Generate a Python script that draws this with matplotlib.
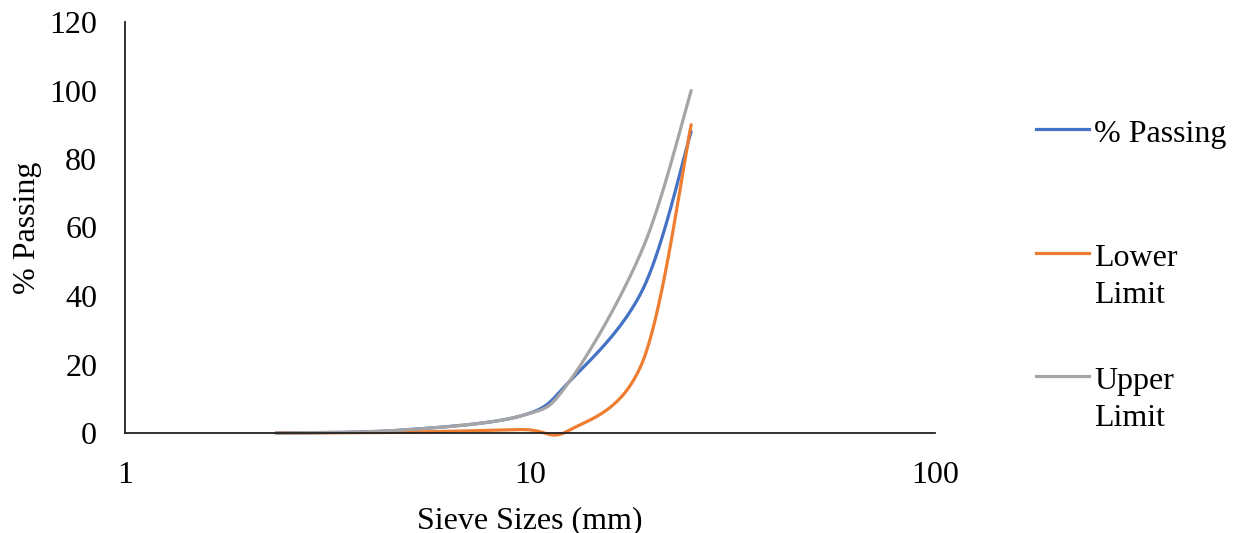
import numpy as np
import matplotlib
matplotlib.use('Agg')
import matplotlib.pyplot as plt
from matplotlib.lines import Line2D

plt.rcParams['font.family'] = ['Liberation Serif', 'DejaVu Serif']

sieve_sizes = [2.36, 4.75, 9.5, 12.5, 19, 25]
passing = [0, 0.8, 5, 15, 42, 88]
lower_limit = [0, 0.2, 1, 0.8, 21, 90]
upper_limit = [0, 0.8, 5, 15, 54, 100]

series_names = ['% Passing', 'Lower Limit', 'Upper Limit']
series_colors = ['#4472C4', '#ED7D31', '#A5A5A5']

W, H = 1237, 533
FS = 23
fig = plt.figure(figsize=(W / 100, H / 100), dpi=100)
ax = fig.add_axes([125 / W, 100 / H, 810 / W, 411 / H])


def smooth(x, y, steps=40):
    # spreadsheet-style smoothed line: cubic Bezier through each point,
    # tangents taken from the neighbours, worked out in screen units
    u = np.log10(np.asarray(x, float)) * 405.0
    v = np.asarray(y, float) * 3.425
    p = np.column_stack([u, v])
    n = len(p)
    out = [p[0]]
    t = np.linspace(0, 1, steps)[1:, None]
    for i in range(n - 1):
        p0 = p[i - 1] if i > 0 else p[i]
        p3 = p[i + 2] if i + 2 < n else p[i + 1]
        c1 = p[i] + (p[i + 1] - p0) / 6.0
        c2 = p[i + 1] - (p3 - p[i]) / 6.0
        seg = ((1 - t) ** 3) * p[i] + 3 * ((1 - t) ** 2) * t * c1 \
            + 3 * (1 - t) * t ** 2 * c2 + t ** 3 * p[i + 1]
        out.extend(seg)
    out = np.array(out)
    return 10 ** (out[:, 0] / 405.0), out[:, 1] / 3.425


for vals, name, col in zip([passing, lower_limit, upper_limit],
                           series_names, series_colors):
    sx, sy = smooth(sieve_sizes, vals)
    ax.plot(sx, sy, color=col, lw=2.3, solid_capstyle='round', label=name,
            clip_on=False)

ax.set_xscale('log')
ax.set_xlim(1, 100)
ax.set_ylim(0, 120)
ax.set_xticks([1, 10, 100])
ax.set_xticklabels(['1', '10', '100'])
ax.xaxis.set_minor_locator(matplotlib.ticker.NullLocator())
ax.set_yticks(range(0, 121, 20))
ax.tick_params(length=0, labelsize=FS, colors='black')
ax.tick_params(axis='x', pad=20)
ax.tick_params(axis='y', pad=20)

for s in ['top', 'right']:
    ax.spines[s].set_visible(False)
for s in ['left', 'bottom']:
    ax.spines[s].set_linewidth(1.3)
    ax.spines[s].set_color('#222222')

ax.set_xlabel('Sieve Sizes (mm)', fontsize=FS, labelpad=11.5)
ax.set_ylabel('% Passing', fontsize=FS, labelpad=5)

# legend on the right, drawn by hand so wrapped labels sit like the original
legend_rows = [129, 253, 376]
label_lines = [['% Passing'], ['Lower', 'Limit'], ['Upper', 'Limit']]
for row, lines, col in zip(legend_rows, label_lines, series_colors):
    yf = 1 - row / H
    fig.add_artist(Line2D([1036 / W, 1089 / W], [yf, yf], color=col, lw=2.3,
                          transform=fig.transFigure))
    for k, txt in enumerate(lines):
        fig.text(1094 / W, 1 - (row + 13 + 37 * k) / H, txt, fontsize=FS,
                 va='baseline', ha='left')

fig.savefig('out.png', dpi=100)
